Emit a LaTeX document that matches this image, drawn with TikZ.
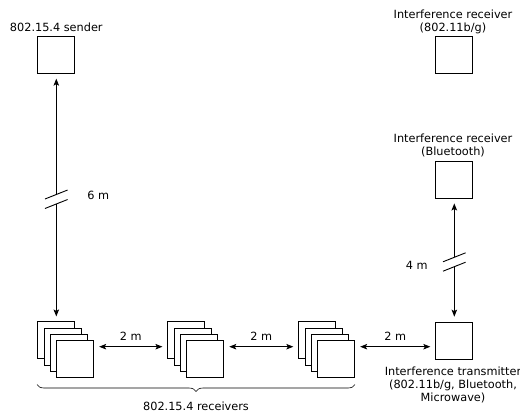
\documentclass[tikz,border=0pt]{standalone}
\usepackage{fontspec}
\setmainfont{DejaVu Sans}
\usetikzlibrary{arrows.meta,decorations.pathreplacing}
\begin{document}
\begin{tikzpicture}[x=1pt,y=-1pt,
  box/.style={draw, line width=0.9pt, minimum size=37pt, inner sep=0pt, fill=white},
  lbl/.style={font=\fontsize{11.3}{13}\selectfont, inner sep=0pt, align=center},
  conn/.style={line width=0.9pt},
  tip/.tip={Stealth[length=7pt,width=5.5pt,inset=1.5pt]},
  arr/.style={conn, tip-tip, shorten <=5pt, shorten >=5pt},
  brk/.style={line width=0.9pt}]
\useasboundingbox (0,0) rectangle (520,413);
% receiver stacks
\foreach \s/\x in {1/56.3,2/186.4,3/317.3}{
  \foreach \k in {0,...,3}{
    \node[box] (r\s\k) at ({\x+6.3*\k},{340.4+6.3*\k}) {};
  }
}
% other boxes
\node[box] (snd) at (56.3,54.7) {};
\node[box] (rxw) at (454.3,54.7) {};
\node[box] (rxb) at (454.3,179.5) {};
\node[box] (tx) at (454.3,340.6) {};
% texts
\node[lbl, anchor=base] (tsnd) at (56.3,31.7) {802.15.4 sender};
\node[lbl, anchor=north] (trxw) at (453,10) {Interference receiver\\(802.11b/g)};
\node[lbl, anchor=north] (trxb) at (453,133.6) {Interference receiver\\(Bluetooth)};
\node[lbl, anchor=north] (ttx) at (453,366.6) {Interference transmitter\\(802.11b/g, Bluetooth,\\Microwave)};
% horizontal arrows
\draw[arr] (r13.east |- r11) -- node[lbl, midway, above=6pt] (d1) {2 m} (r20.west |- r11);
\draw[arr] (r23.east |- r21) -- node[lbl, midway, above=6pt] (d2) {2 m} (r30.west |- r21);
\draw[arr] (r33.east |- r31) -- node[lbl, midway, above=6pt] (d3) {2 m} (tx.west |- r31);
% left vertical with break
\coordinate (bk1) at (56.3,194.5);
\coordinate (bk2) at (56.3,204);
\draw[conn, tip-, shorten <=5pt] (snd.south) -- (bk1);
\draw[conn, -tip, shorten >=5pt] (bk2) -- (r10.north);
\draw[brk] ([shift={(-11.3,4.5)}]bk1) -- ([shift={(11.3,-4.5)}]bk1);
\draw[brk] ([shift={(-11.3,4.5)}]bk2) -- ([shift={(11.3,-4.5)}]bk2);
\node[lbl] (l6) at (98.3,195) {6 m};
% right vertical with break
\coordinate (bk3) at (454.3,257.3);
\coordinate (bk4) at (454.3,266.7);
\draw[conn, tip-, shorten <=5pt] (rxb.south) -- (bk3);
\draw[conn, -tip, shorten >=5pt] (bk4) -- (tx.north);
\draw[brk] ([shift={(-11.3,4.5)}]bk3) -- ([shift={(11.3,-4.5)}]bk3);
\draw[brk] ([shift={(-11.3,4.5)}]bk4) -- ([shift={(11.3,-4.5)}]bk4);
\node[lbl] (l4) at (416.7,265) {4 m};
% brace
\coordinate (bl) at (37,384.5);
\coordinate (br) at (355,384.5);
\draw[line width=0.6pt, decorate, decoration={brace, mirror, amplitude=7pt}] (bl) -- (br);
\node[lbl, anchor=base] (trcv) at (196,410) {802.15.4 receivers};
\end{tikzpicture}
\end{document}
